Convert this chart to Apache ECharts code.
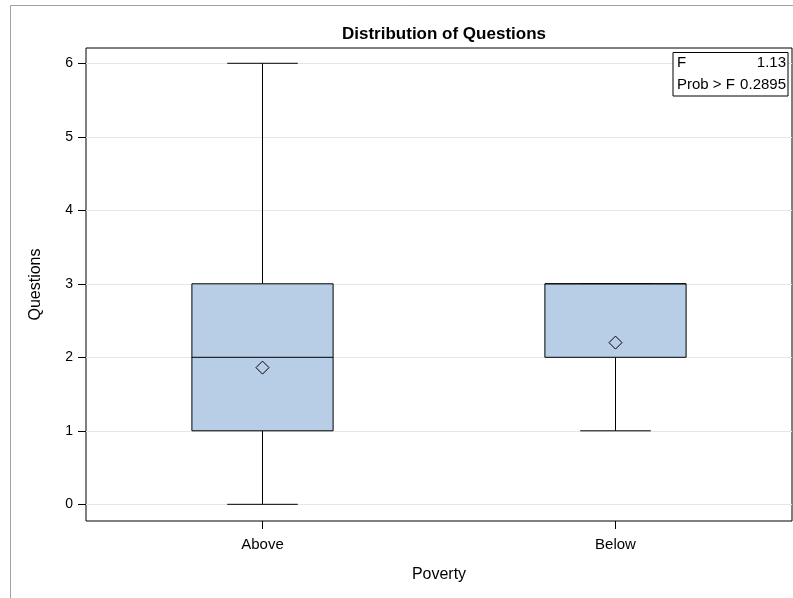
<!DOCTYPE html>
<html>
<head>
<meta charset="utf-8">
<script src="https://cdn.jsdelivr.net/npm/echarts@6/dist/echarts.min.js"></script>
<style>html,body{margin:0;padding:0;background:#fff;}#c{width:793px;height:598px;}</style>
</head>
<body>
<div id="c"></div>
<script>
const categories = ['Above', 'Below'];
const whiskerLow = [0, 1];
const q1 = [1, 2];
const median = [2, 3];
const q3 = [3, 3];
const whiskerHigh = [6, 3];
const means = [1.86, 2.2];
const yTicks = [0, 1, 2, 3, 4, 5, 6];
const statLabels = ['F', 'Prob > F'];
const statValues = ['1.13', '0.2895'];

const FONT = '"Liberation Sans", Arial, sans-serif';
const boxData = categories.map((c, i) => [i, whiskerLow[i], q1[i], median[i], q3[i], whiskerHigh[i]]);
const meanData = categories.map((c, i) => [i, means[i]]);

const chart = echarts.init(document.getElementById('c'), null, {renderer: 'canvas'});
chart.setOption({
  animation: false,
  backgroundColor: '#fff',
  title: {
    text: 'Distribution of Questions',
    left: 439, top: 21, textAlign: 'center',
    textStyle: {fontFamily: FONT, fontSize: 17, fontWeight: 'bold', color: '#000'}
  },
  grid: {left: 86, right: 1, top: 48, bottom: 77, show: true, borderColor: '#000', borderWidth: 1, backgroundColor: 'transparent'},
  xAxis: {
    type: 'category', data: categories, boundaryGap: true,
    name: 'Poverty', nameLocation: 'middle', nameGap: 46,
    nameTextStyle: {fontFamily: FONT, fontSize: 16, color: '#000'},
    axisLine: {show: false, onZero: false},
    axisTick: {show: true, alignWithLabel: true, length: 8, lineStyle: {color: '#000'}},
    axisLabel: {fontFamily: FONT, fontSize: 15, color: '#000', margin: 16},
    splitLine: {show: false}
  },
  yAxis: {
    type: 'value', min: -0.227, max: 6.208,
    name: 'Questions', nameLocation: 'middle', nameGap: 42, nameRotate: 90,
    nameTextStyle: {fontFamily: FONT, fontSize: 16, color: '#000'},
    axisLine: {show: false, onZero: false},
    axisTick: {show: true, length: 8, customValues: yTicks, lineStyle: {color: '#000'}},
    axisLabel: {fontFamily: FONT, fontSize: 14, color: '#000', margin: 13, customValues: yTicks},
    splitLine: {show: false}
  },
  series: [
    {
      type: 'line', data: [], z: 1, zlevel: 0, silent: true,
      markLine: {
        silent: true, symbol: 'none', label: {show: false},
        lineStyle: {color: '#e6e6e6', type: 'solid', width: 1},
        data: yTicks.map(v => ({yAxis: v}))
      }
    },
    {
      type: 'custom', z: 3, zlevel: 1,
      data: boxData,
      renderItem: function (params, api) {
        const i = api.value(0);
        const lo = api.coord([i, api.value(1)]);
        const b1 = api.coord([i, api.value(2)]);
        const md = api.coord([i, api.value(3)]);
        const b3 = api.coord([i, api.value(4)]);
        const hi = api.coord([i, api.value(5)]);
        const cat = api.size([1, 0])[0];
        const bw = cat * 0.4;
        const cw = cat * 0.2;
        const x = lo[0];
        const ls = {stroke: '#000', lineWidth: 1};
        return {
          type: 'group',
          children: [
            {type: 'line', shape: {x1: x, y1: b1[1], x2: x, y2: lo[1]}, style: ls},
            {type: 'line', shape: {x1: x, y1: b3[1], x2: x, y2: hi[1]}, style: ls},
            {type: 'line', shape: {x1: x - cw / 2, y1: lo[1], x2: x + cw / 2, y2: lo[1]}, style: ls},
            {type: 'line', shape: {x1: x - cw / 2, y1: hi[1], x2: x + cw / 2, y2: hi[1]}, style: ls},
            {type: 'rect', shape: {x: x - bw / 2, y: b3[1], width: bw, height: b1[1] - b3[1]},
              style: {fill: '#b8cee6', stroke: '#000', lineWidth: 1}},
            {type: 'line', shape: {x1: x - bw / 2, y1: md[1], x2: x + bw / 2, y2: md[1]}, style: ls}
          ]
        };
      }
    },
    {
      type: 'scatter', z: 5, zlevel: 1, data: meanData,
      symbol: 'diamond', symbolSize: [13, 13],
      itemStyle: {color: 'rgba(0,0,0,0)', borderColor: '#000', borderWidth: 1, opacity: 1}
    }
  ],
  graphic: [
    {type: 'rect', zlevel: 0, shape: {x: 10.5, y: 5.5, width: 800, height: 700}, style: {fill: 'none', stroke: '#a0a0a0', lineWidth: 1}, silent: true, z: -10},
    {type: 'rect', zlevel: 1, shape: {x: 673, y: 52.5, width: 115, height: 43.5}, style: {fill: '#fff', stroke: '#000', lineWidth: 1}, z: 20},
    {type: 'text', zlevel: 1, style: {x: 677, y: 63, text: statLabels[0], font: '15px ' + FONT, fill: '#000', textAlign: 'left', textVerticalAlign: 'middle'}, z: 21},
    {type: 'text', zlevel: 1, style: {x: 786, y: 63, text: statValues[0], font: '15px ' + FONT, fill: '#000', textAlign: 'right', textVerticalAlign: 'middle'}, z: 21},
    {type: 'text', zlevel: 1, style: {x: 677, y: 85, text: statLabels[1], font: '15px ' + FONT, fill: '#000', textAlign: 'left', textVerticalAlign: 'middle'}, z: 21},
    {type: 'text', zlevel: 1, style: {x: 786, y: 85, text: statValues[1], font: '15px ' + FONT, fill: '#000', textAlign: 'right', textVerticalAlign: 'middle'}, z: 21}
  ]
});
</script>
</body>
</html>
